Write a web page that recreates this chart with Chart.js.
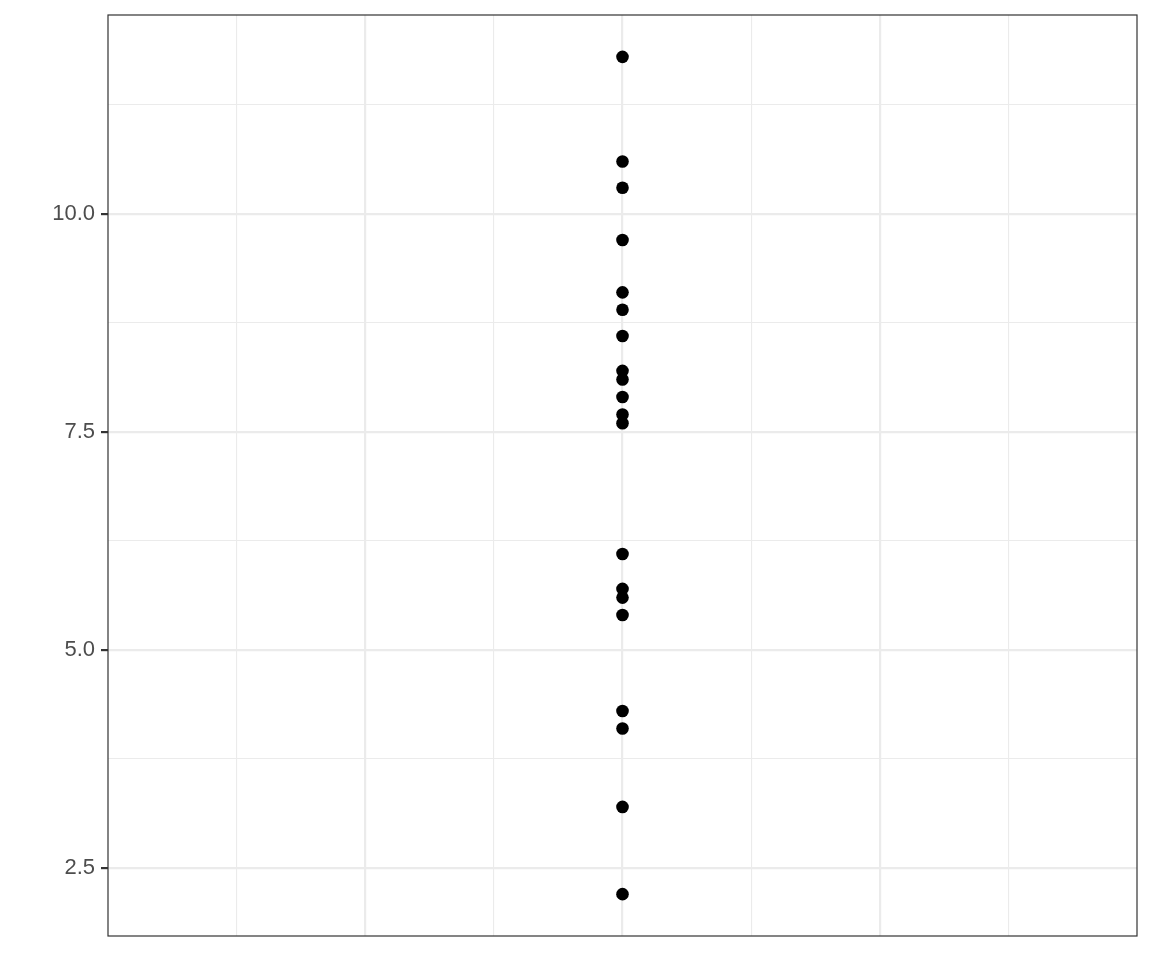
<!DOCTYPE html>
<html>
<head>
<meta charset="utf-8">
<script src="https://cdn.jsdelivr.net/npm/chart.js@4/dist/chart.umd.min.js"></script>
<style>
  html, body { margin: 0; padding: 0; background: #ffffff; }
  #wrap { width: 1152px; height: 960px; }
</style>
</head>
<body>
<div id="wrap"><canvas id="dotChart" width="1152" height="960"></canvas></div>
<script>
// values (all points share one x position)
const yValues = [11.8, 10.6, 10.3, 9.7, 9.1, 8.9, 8.6, 8.2, 8.1, 7.9, 7.7, 7.6,
                 6.1, 5.7, 5.6, 5.4, 4.3, 4.1, 3.2, 2.2];
const xValue = 0;

const yMajorTicks = [2.5, 5.0, 7.5, 10.0];
const yMinorTicks = [3.75, 6.25, 8.75, 11.25];
const xMajorTicks = [-1, 0, 1];
const xMinorTicks = [-1.5, -0.5, 0.5, 1.5];

const yMin = 1.72, yMax = 12.28;
const xMin = -2, xMax = 2;

const points = yValues.map(v => ({ x: xValue, y: v }));

// panel border like theme_bw
const borderPlugin = {
    id: 'panelBorder',
    afterDraw(chart) {
        const a = chart.chartArea;
        const ctx = chart.ctx;
        ctx.save();
        ctx.strokeStyle = '#333333';
        ctx.lineWidth = 1.2;
        ctx.strokeRect(a.left, a.top, a.right - a.left, a.bottom - a.top);
        ctx.restore();
    }
};

const isMajor = (list, v) => list.some(t => Math.abs(t - v) < 1e-9);

new Chart(document.getElementById('dotChart'), {
    type: 'scatter',
    data: {
        datasets: [{
            data: points,
            backgroundColor: '#000000',
            borderWidth: 0,
            pointRadius: 6.3,
            pointHoverRadius: 6.3
        }]
    },
    options: {
        responsive: false,
        animation: false,
        layout: { padding: { top: 15, right: 15, bottom: 24, left: 0 } },
        plugins: {
            legend: { display: false },
            tooltip: { enabled: false }
        },
        scales: {
            x: {
                type: 'linear',
                min: xMin,
                max: xMax,
                afterBuildTicks: scale => {
                    scale.ticks = [...xMinorTicks, ...xMajorTicks]
                        .sort((a, b) => a - b)
                        .map(v => ({ value: v }));
                },
                afterFit: scale => { scale.height = 0; },
                ticks: { display: false },
                border: { display: false },
                grid: {
                    drawTicks: false,
                    color: '#EBEBEB',
                    lineWidth: ctx => isMajor(xMajorTicks, ctx.tick.value) ? 2.2 : 1.1
                }
            },
            y: {
                type: 'linear',
                min: yMin,
                max: yMax,
                afterBuildTicks: scale => {
                    scale.ticks = [...yMinorTicks, ...yMajorTicks]
                        .sort((a, b) => a - b)
                        .map(v => ({ value: v }));
                },
                afterFit: scale => {
                    scale.width = 108;
                    scale.paddingTop = 0;
                    scale.paddingBottom = 0;
                },
                border: { display: false },
                ticks: {
                    color: '#4D4D4D',
                    padding: 6,
                    font: { family: 'Liberation Sans, Arial, sans-serif', size: 22 },
                    callback: v => isMajor(yMajorTicks, v) ? v.toFixed(1) : ''
                },
                grid: {
                    drawTicks: true,
                    tickLength: 7,
                    color: '#EBEBEB',
                    tickColor: ctx => isMajor(yMajorTicks, ctx.tick.value) ? '#333333' : 'rgba(0,0,0,0)',
                    tickWidth: 2.2,
                    lineWidth: ctx => isMajor(yMajorTicks, ctx.tick.value) ? 2.2 : 1.1
                }
            }
        }
    },
    plugins: [borderPlugin]
});
</script>
</body>
</html>
